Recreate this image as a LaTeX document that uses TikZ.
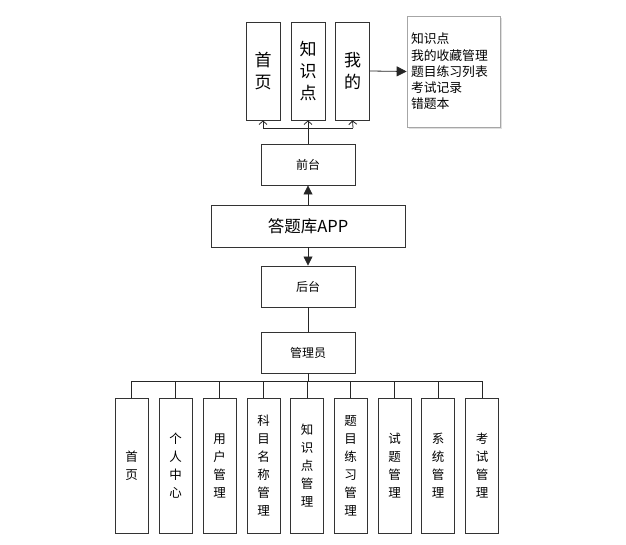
\documentclass[tikz,border=0pt]{standalone}
\usepackage{fontspec}
\setmainfont{Noto Sans CJK SC}
\usetikzlibrary{arrows.meta,shadows}
\begin{document}
\begin{tikzpicture}[x=1pt,y=-1pt,
  box/.style={draw=black!80,line width=0.9pt,fill=white,inner sep=0pt,align=center},
  topbox/.style={box,minimum width=34pt,minimum height=98pt,font=\fontsize{17}{22}\selectfont},
  midbox/.style={box,minimum width=94pt,minimum height=41pt,font=\fontsize{12}{14}\selectfont},
  botbox/.style={box,minimum width=33pt,minimum height=135pt,font=\fontsize{12.5}{18}\selectfont},
  conn/.style={draw=black!85,line width=0.8pt},
  farrow/.style={conn,-{Triangle[length=9pt,width=9pt]}},
  oarrow/.style={conn,-{Straight Barb[length=3.5pt,width=8pt]}}
]
\useasboundingbox (0,0) rectangle (626,545);
% top
\node[topbox] (shouye) at (263,71) {首\\页};
\node[topbox] (zhishi) at (308,71) {知\\识\\点};
\node[topbox] (wode) at (352.5,71) {我\\的};
\node[draw=black!35,line width=0.7pt,fill=white,minimum width=93pt,minimum height=111pt,
  drop shadow={shadow xshift=2pt,shadow yshift=-2pt,opacity=0.25,fill=gray},
  align=left,text width=85pt,inner sep=4pt,font=\fontsize{12.8}{16.2}\selectfont] (info) at (453.5,71.5)
  {知识点\\我的收藏管理\\题目练习列表\\考试记录\\错题本};
\draw[conn,-{Triangle[length=10pt,width=10pt]}] (wode.east) -- (info.west);
% middle
\node[midbox] (qian) at (308,164.5) {前台};
\node[box,minimum width=194pt,minimum height=42pt,font=\fontsize{16.5}{20}\selectfont] (app) at (308,226) {答题库APP};
\node[midbox] (hou) at (308,286.5) {后台};
\node[midbox] (admin) at (308,352.5) {管理员};
\coordinate (tf) at (308,128);
\draw[conn] (qian.north) -- (tf);
\draw[conn] (263,128) -- (353,128);
\draw[oarrow] (263,128) -- (shouye.south);
\draw[oarrow] (tf) -- (zhishi.south);
\draw[oarrow] (353,128) -- (wode.south);
\draw[farrow] (app.north) -- (qian.south);
\draw[farrow] (app.south) -- (hou.north);
\draw[conn] (hou.south) -- (admin.north);
% bottom
\coordinate (bf) at (308,381);
\draw[conn] (admin.south) -- (bf);
\foreach \x/\n/\t in {131.5/b1/首\\页, 175.5/b2/个\\人\\中\\心, 219.5/b3/用\\户\\管\\理,
  263.5/b4/科\\目\\名\\称\\管\\理, 307/b5/知\\识\\点\\管\\理, 350.5/b6/题\\目\\练\\习\\管\\理,
  394.5/b7/试\\题\\管\\理, 438/b8/系\\统\\管\\理, 482/b9/考\\试\\管\\理}{
  \node[botbox] (\n) at (\x,465.5) {\t};
  \draw[conn] (\x,381) -- (\n.north);
}
\draw[conn] (131.5,381) -- (482,381);
\end{tikzpicture}
\end{document}
